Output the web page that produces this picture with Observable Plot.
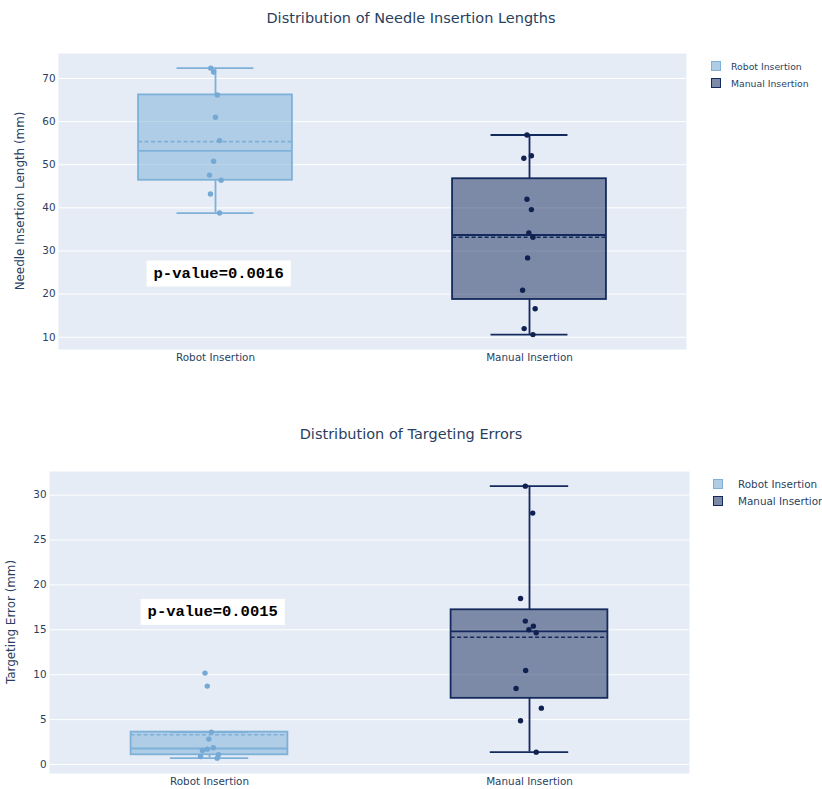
<!DOCTYPE html>
<html>
<head>
<meta charset="utf-8">
<script src="https://cdn.jsdelivr.net/npm/d3@7"></script>
<script src="https://cdn.jsdelivr.net/npm/@observablehq/plot@0.6"></script>
<style>
  html, body { margin: 0; padding: 0; background: #fff; }
  body { width: 822px; height: 789px; overflow: hidden; position: relative;
         font-family: "DejaVu Sans", Verdana, sans-serif; color: #2a3f5f; }
  .panel { position: absolute; left: 0; width: 822px; }
  .title { position: absolute; left: 0; width: 822px; text-align: center;
           font-size: 14.5px; line-height: 18px; color: #2a3f5f; white-space: nowrap; }
  .legend { position: absolute; white-space: nowrap; }
  .legend .item { position: absolute; left: 0; height: 12px; }
  .legend .sw { position: absolute; left: 0; top: 0; width: 8px; height: 8px; border: 1.5px solid; }
  .legend .lb { position: absolute; top: 0; line-height: 11px; }
</style>
</head>
<body>
<div id="root"></div>
<script>
// Groups shown on the x axis
const groups = ["Robot Insertion", "Manual Insertion"];

// Needle insertion length (mm)
const robotLength  = [72.4, 71.5, 66.2, 61.0, 55.6, 50.8, 47.6, 46.4, 43.2, 38.8];
const manualLength = [56.9, 52.1, 51.5, 42.0, 39.6, 34.2, 33.2, 28.4, 20.9, 16.6, 12.0, 10.6];

// Targeting error (mm)
const robotError  = [10.18, 8.73, 3.61, 2.83, 1.86, 1.71, 1.56, 1.08, 0.89, 0.71];
const manualError = [31.0, 28.0, 18.49, 15.97, 15.41, 15.0, 14.67, 10.47, 8.46, 6.28, 4.87, 1.38];

// Horizontal jitter of each point, as a fraction of a category slot
const robotLengthJitter  = [-0.015, -0.006, 0.006, 0.0, 0.013, -0.006, -0.019, 0.018, -0.016, 0.013];
const manualLengthJitter = [-0.008, 0.006, -0.018, -0.008, 0.006, -0.002, 0.011, -0.006, -0.022, 0.018, -0.017, 0.011];
const robotErrorJitter   = [-0.014, -0.007, 0.006, -0.002, 0.012, -0.007, -0.022, 0.028, -0.028, 0.024];
const manualErrorJitter  = [-0.013, 0.010, -0.028, -0.013, 0.012, -0.002, 0.021, -0.012, -0.042, 0.037, -0.028, 0.021];

// Tick values
const lengthTicks = [10, 20, 30, 40, 50, 60, 70];
const errorTicks  = [0, 5, 10, 15, 20, 25, 30];

// Significance labels
const lengthPValue = "p-value=0.0016";
const errorPValue  = "p-value=0.0015";

const colors = {
  robot:  { line: "#7fb0d8", fill: "#7aaed6", dot: "#74a9d5" },
  manual: { line: "#142a5c", fill: "#13285a", dot: "#0f2150" }
};
const bg = "#e5ecf6";
const textColor = "#2a3f5f";

// Quantile interpolation on sorted values (position p*n - 0.5)
function interp(s, p) {
  let n = p * s.length - 0.5;
  if (n <= 0) return s[0];
  if (n >= s.length - 1) return s[s.length - 1];
  const f = Math.floor(n), r = n - f;
  return r ? s[f] * (1 - r) + s[f + 1] * r : s[f];
}
function boxStats(values, i, key) {
  const s = [...values].sort((a, b) => a - b);
  const q1 = interp(s, 0.25), med = interp(s, 0.5), q3 = interp(s, 0.75);
  const iqr = q3 - q1;
  const lo = d3.min(s.filter(v => v >= q1 - 1.5 * iqr));
  const hi = d3.max(s.filter(v => v <= q3 + 1.5 * iqr));
  return { i, key, q1, med, q3, mean: d3.mean(s), lo, hi };
}

const halfBox = 0.245, halfCap = 0.1225;

function boxPanel({ series, ticks, domain, yLabel, pValue, pY, height, margins }) {
  const stats = series.map((d, i) => boxStats(d.values, i, d.key));
  const points = series.flatMap((d, i) => d.values.map((v, j) => ({ key: d.key, x: i + d.jitter[j], y: v })));
  const col = k => colors[k];
  const plot = Plot.plot({
    width: 822,
    height,
    marginTop: margins[0], marginRight: margins[1], marginBottom: margins[2], marginLeft: margins[3],
    style: { fontFamily: '"DejaVu Sans", Verdana, sans-serif', fontSize: "10.4px", color: textColor, background: "transparent" },
    x: { type: "linear", domain: [-0.5, 1.5], axis: null },
    y: { domain, axis: null },
    marks: [
      Plot.frame({ fill: bg, stroke: null }),
      Plot.gridY(ticks, { stroke: "#ffffff", strokeOpacity: 1, strokeWidth: 1 }),
      Plot.axisY(ticks, { tickSize: 0, tickPadding: 3, fill: textColor, fontSize: 10.4 }),
      Plot.axisX([0, 1], { tickSize: 0, tickPadding: 4, tickFormat: i => groups[i], fill: textColor, fontSize: 10.4 }),
      // whiskers
      Plot.ruleX(stats, { x: "i", y1: "q3", y2: "hi", stroke: d => col(d.key).line, strokeWidth: 1.8 }),
      Plot.ruleX(stats, { x: "i", y1: "lo", y2: "q1", stroke: d => col(d.key).line, strokeWidth: 1.8 }),
      Plot.ruleY(stats, { y: "hi", x1: d => d.i - halfCap, x2: d => d.i + halfCap, stroke: d => col(d.key).line, strokeWidth: 1.8 }),
      Plot.ruleY(stats, { y: "lo", x1: d => d.i - halfCap, x2: d => d.i + halfCap, stroke: d => col(d.key).line, strokeWidth: 1.8 }),
      // boxes
      Plot.rect(stats, { x1: d => d.i - halfBox, x2: d => d.i + halfBox, y1: "q1", y2: "q3",
        fill: d => col(d.key).fill, fillOpacity: 0.5, stroke: d => col(d.key).line, strokeWidth: 1.8 }),
      Plot.ruleY(stats, { y: "med", x1: d => d.i - halfBox, x2: d => d.i + halfBox, stroke: d => col(d.key).line, strokeWidth: 1.8 }),
      Plot.ruleY(stats, { y: "mean", x1: d => d.i - halfBox, x2: d => d.i + halfBox, stroke: d => col(d.key).line, strokeWidth: 1.6, strokeDasharray: "4,2.5" }),
      // points
      Plot.dot(points, { x: "x", y: "y", r: 2.7, fill: d => col(d.key).dot, stroke: null }),
      // significance label
      Plot.text([pValue], { x: 0.01, y: pY, text: d => d, fontFamily: '"Liberation Mono", "Courier New", monospace',
        fontWeight: "bold", fontSize: 15.5, fill: "#000", className: "pval" })
    ]
  });
  return { plot, yLabel };
}

const root = document.getElementById("root");

function addPanel(top, spec) {
  const wrap = document.createElement("div");
  wrap.className = "panel";
  wrap.style.top = top + "px";
  wrap.appendChild(spec.plot);
  root.appendChild(wrap);
  const svg = d3.select(spec.plot);
  // white box behind the significance label
  svg.selectAll(".pval text").each(function () {
    const b = this.getBBox();
    d3.select(this.parentNode).insert("rect", () => this)
      .attr("transform", this.getAttribute("transform"))
      .attr("x", b.x - 7).attr("y", b.y + b.height / 2 - 13)
      .attr("width", b.width + 14).attr("height", 26).attr("fill", "#fff");
  });
  // rotated y-axis title
  svg.append("text")
    .attr("transform", `translate(${spec.labelX},${spec.yCenter}) rotate(-90)`)
    .attr("text-anchor", "middle").attr("dominant-baseline", "central")
    .attr("fill", textColor).attr("font-size", 11.9)
    .attr("font-family", '"DejaVu Sans", Verdana, sans-serif')
    .text(spec.yLabel);
}

function addTitle(text, centerY) {
  const t = document.createElement("div");
  t.className = "title";
  t.style.top = (centerY - 9) + "px";
  t.textContent = text;
  root.appendChild(t);
}

function addLegend(x, y, gap, textX, fontSize) {
  const lg = document.createElement("div");
  lg.className = "legend";
  lg.style.left = x + "px";
  lg.style.top = y + "px";
  groups.forEach((g, i) => {
    const k = i === 0 ? "robot" : "manual";
    const item = document.createElement("div");
    item.className = "item";
    item.style.top = (i * gap) + "px";
    const sw = document.createElement("div");
    sw.className = "sw";
    sw.style.borderColor = colors[k].line;
    sw.style.background = d3.interpolateRgb(bg, colors[k].fill)(0.5);
    const lb = document.createElement("div");
    lb.className = "lb";
    lb.style.left = textX + "px";
    lb.style.fontSize = fontSize + "px";
    lb.textContent = g;
    item.appendChild(sw);
    item.appendChild(lb);
    lg.appendChild(item);
  });
  root.appendChild(lg);
}

// Top panel: needle insertion lengths
const top1 = boxPanel({
  series: [
    { key: "robot", values: robotLength, jitter: robotLengthJitter },
    { key: "manual", values: manualLength, jitter: manualLengthJitter }
  ],
  ticks: lengthTicks, domain: [7.15, 75.8], yLabel: "Needle Insertion Length (mm)",
  pValue: lengthPValue, pY: 25, height: 400, margins: [53, 136, 51, 58]
});
top1.labelX = 19.5; top1.yCenter = 201;
addPanel(0, top1);
addTitle("Distribution of Needle Insertion Lengths", 18);
addLegend(711, 61, 16.6, 20, 9.3);

// Bottom panel: targeting errors
const bot = boxPanel({
  series: [
    { key: "robot", values: robotError, jitter: robotErrorJitter },
    { key: "manual", values: manualError, jitter: manualErrorJitter }
  ],
  ticks: errorTicks, domain: [-1.0, 32.63], yLabel: "Targeting Error (mm)",
  pValue: errorPValue, pY: 17.1, height: 389, margins: [71, 133, 16, 49]
});
bot.labelX = 10.5; bot.yCenter = 222;
addPanel(400, bot);
addTitle("Distribution of Targeting Errors", 434);
addLegend(713, 479, 17.4, 25, 10.4);
</script>
</body>
</html>
